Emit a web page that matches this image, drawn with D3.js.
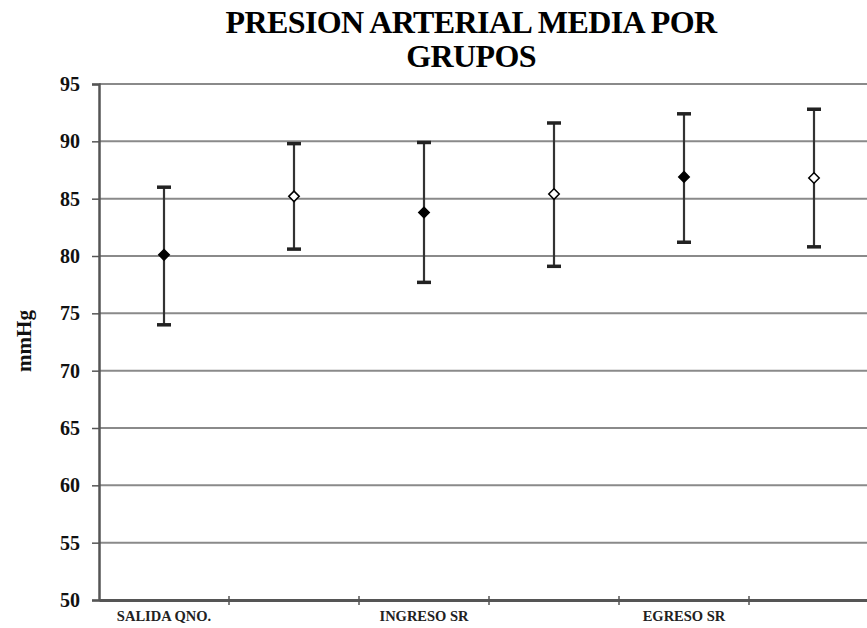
<!DOCTYPE html>
<html><head><meta charset="utf-8">
<script src="https://cdn.jsdelivr.net/npm/d3@7"></script>
<style>body{margin:0;background:#fff}svg{display:block}</style>
</head><body>
<svg id="c" width="867" height="628"></svg>
<script>
const categories = ["SALIDA QNO.", "", "INGRESO SR", "", "EGRESO SR", ""];
const groupIds = ["g1","g2","g3","g4","g5","g6"];
const means = [80.1, 85.2, 83.8, 85.4, 86.9, 86.8];
const upper = [86.0, 89.8, 89.9, 91.6, 92.4, 92.8];
const lower = [74.0, 80.6, 77.7, 79.1, 81.2, 80.8];
const filled = [true, false, true, false, true, false];
const yTicks = [50,55,60,65,70,75,80,85,90,95];
const titleLines = ["PRESION ARTERIAL MEDIA POR", "GRUPOS"];
const yLabel = "mmHg";

const svg = d3.select("#c");
const serif = "'Liberation Serif', 'DejaVu Serif', 'Noto Serif', 'FreeSerif', 'Nimbus Roman', 'Times', serif";
const m = {left:99, top:84, right:879, bottom:600};

const x = d3.scaleBand().domain(groupIds).range([m.left, m.right]).padding(0);
const y = d3.scaleLinear().domain([50,95]).range([m.bottom, m.top]);

// gridlines
svg.append("g").selectAll("line").data(yTicks).join("line")
  .attr("x1", m.left).attr("x2", m.right)
  .attr("y1", d=>y(d)).attr("y2", d=>y(d))
  .attr("stroke", "#8a8a8a").attr("stroke-width", 2);

// y axis
const ya = svg.append("g").attr("transform", `translate(${m.left},0)`)
  .call(d3.axisLeft(y).tickValues(yTicks).tickSize(7).tickPadding(12));
ya.select(".domain").attr("stroke","#555").attr("stroke-width",2.5);
ya.selectAll(".tick line").attr("stroke","#555").attr("stroke-width",1.5);
ya.selectAll(".tick text").style("font-family", serif).attr("font-weight","bold")
  .attr("font-size", 20).attr("fill","#111");

// x axis
const xa = svg.append("g").attr("transform", `translate(0,${m.bottom})`)
  .call(d3.axisBottom(x).tickFormat((d,i)=>categories[i]).tickSize(0).tickPadding(11));
xa.select(".domain").attr("stroke","#555").attr("stroke-width",3);
xa.selectAll(".tick text").style("font-family", serif).attr("font-weight","bold")
  .attr("font-size", 14.5).attr("fill","#222");
// category boundary ticks
svg.append("g").selectAll("line").data(groupIds.slice(1)).join("line")
  .attr("x1", d=>x(d)).attr("x2", d=>x(d))
  .attr("y1", m.bottom-4).attr("y2", m.bottom+5)
  .attr("stroke","#555").attr("stroke-width",1.5);

// error bars
const data = groupIds.map((g,i)=>({g, mean:means[i], hi:upper[i], lo:lower[i], filled:filled[i]}));
const cx = d => x(d.g) + x.bandwidth()/2;
const eb = svg.append("g");
eb.selectAll("line.v").data(data).join("line").attr("class","v")
  .attr("x1", cx).attr("x2", cx).attr("y1", d=>y(d.hi)).attr("y2", d=>y(d.lo))
  .attr("stroke","#333").attr("stroke-width",2.2);
["hi","lo"].forEach(k=>{
  eb.selectAll("line.c"+k).data(data).join("line").attr("class","c"+k)
    .attr("x1", d=>cx(d)-7).attr("x2", d=>cx(d)+7)
    .attr("y1", d=>y(d[k])).attr("y2", d=>y(d[k]))
    .attr("stroke","#222").attr("stroke-width",3.5);
});

// markers
const diamond = d3.symbol().type(d3.symbolDiamond2).size(70);
svg.append("g").selectAll("path").data(data).join("path")
  .attr("transform", d=>`translate(${cx(d)},${y(d.mean)})`)
  .attr("d", diamond)
  .attr("fill", d=>d.filled ? "#000" : "#fff")
  .attr("stroke", "#000").attr("stroke-width", 1.5);

// title
svg.append("g").selectAll("text").data(titleLines).join("text")
  .attr("x", 471).attr("y", (d,i)=>33 + i*34)
  .attr("text-anchor","middle").style("font-family", serif).attr("font-weight","bold")
  .attr("font-size", 32).attr("fill","#000").attr("letter-spacing", -0.6)
  .text(d=>d);

// y label
svg.append("text").attr("transform","translate(31,341) rotate(-90)")
  .attr("text-anchor","middle").style("font-family", serif).attr("font-weight","bold")
  .attr("font-size", 21).attr("fill","#111").text(yLabel);
</script>
</body></html>
